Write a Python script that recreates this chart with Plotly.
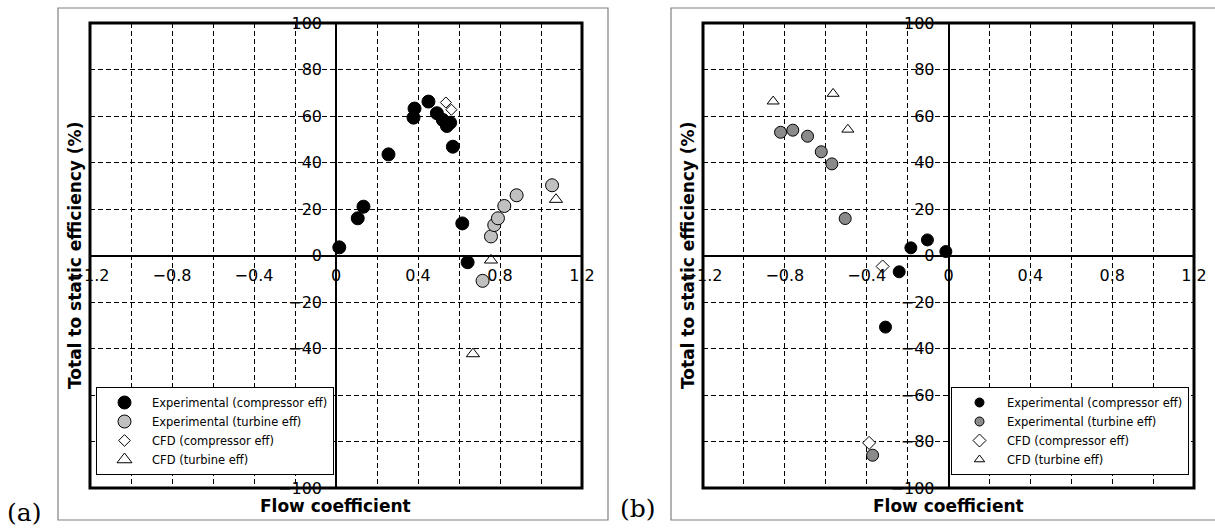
import plotly.graph_objects as go

W, H = 1215, 528

# ---------------- data: panel (a) ----------------
a_exp_comp_x = [0.016, 0.106, 0.134, 0.256, 0.378, 0.383, 0.451, 0.492, 0.521, 0.541, 0.557, 0.570, 0.616, 0.642]
a_exp_comp_y = [3.5, 16.0, 21.0, 43.5, 59.3, 63.2, 66.2, 61.2, 58.3, 55.7, 57.1, 46.8, 13.8, -2.9]
a_exp_turb_x = [0.715, 0.756, 0.772, 0.790, 0.821, 0.881, 1.054]
a_exp_turb_y = [-10.9, 8.2, 13.1, 16.0, 21.3, 25.9, 30.2]
a_cfd_comp_x = [0.536, 0.563]
a_cfd_comp_y = [65.8, 62.7]
a_cfd_turb_x = [0.756, 0.668, 1.073]
a_cfd_turb_y = [-2.0, -42.3, 24.1]

# ---------------- data: panel (b) ----------------
b_exp_comp_x = [-0.184, -0.103, -0.013, -0.241, -0.308]
b_exp_comp_y = [3.3, 6.7, 1.7, -7.0, -30.8]
b_exp_turb_x = [-0.821, -0.761, -0.689, -0.622, -0.570, -0.505, -0.371]
b_exp_turb_y = [53.0, 53.9, 51.3, 44.6, 39.4, 15.9, -85.9]
b_cfd_comp_x = [-0.322, -0.388]
b_cfd_comp_y = [-4.7, -80.6]
b_cfd_turb_x = [-0.857, -0.564, -0.492]
b_cfd_turb_y = [66.3, 69.6, 54.2]

# ---------------- labels ----------------
series_names = ["Experimental (compressor eff)", "Experimental (turbine eff)",
                "CFD (compressor eff)", "CFD (turbine eff)"]
x_tick_vals = [-1.2, -1.0, -0.8, -0.6, -0.4, -0.2, 0.0, 0.2, 0.4, 0.6, 0.8, 1.0, 1.2]
x_tick_text = ["\u22121.2", "", "\u22120.8", "", "\u22120.4", "", "0", "", "0.4", "", "0.8", "", "1.2"]
y_tick_vals = [-100, -80, -60, -40, -20, 0, 20, 40, 60, 80, 100]
y_tick_text = ["\u2212100", "\u221280", "\u221260", "\u221240", "\u221220", "0", "20", "40", "60", "80", "100"]
x_title = "Flow coefficient"
y_title = "Total to static efficiency (%)"
panel_labels = ["(a)", "(b)"]

FONT = "DejaVu Sans"

# pixel layout
plot_top, plot_bot = 23, 488
a_left, a_right = 90, 582
b_left, b_right = 703, 1194


def px(x):
    return x / W


def py(y):
    return 1 - y / H


fig = go.Figure()


def add_panel(idx, xs, ys, gray, sizes, legend_sizes, legend_name):
    xa = "x" if idx == 1 else "x2"
    ya = "y" if idx == 1 else "y2"
    circ, diam, tri = sizes
    styles = [
        dict(symbol="circle", size=circ, color="black", line=dict(color="black", width=1)),
        dict(symbol="circle", size=circ, color=gray, line=dict(color="black", width=1)),
        dict(symbol="diamond", size=diam, color="white", line=dict(color="black", width=1)),
        dict(symbol="triangle-up", size=tri, color="white", line=dict(color="black", width=1)),
    ]
    lc, ld, lt = legend_sizes
    lstyles = [
        dict(symbol="circle", size=lc, color="black", line=dict(color="black", width=1)),
        dict(symbol="circle", size=lc, color=gray, line=dict(color="black", width=1)),
        dict(symbol="diamond", size=ld, color="white", line=dict(color="black", width=1)),
        dict(symbol="triangle-up", size=lt, color="white", line=dict(color="black", width=1)),
    ]
    for (x, y), st, lst, name in zip(zip(xs, ys), styles, lstyles, series_names):
        fig.add_trace(go.Scatter(x=x, y=y, mode="markers", marker=st, xaxis=xa, yaxis=ya,
                                 showlegend=False, cliponaxis=False, hoverinfo="skip"))
        fig.add_trace(go.Scatter(x=[None], y=[None], mode="markers", marker=lst, name=name,
                                 xaxis=xa, yaxis=ya, legend=legend_name, showlegend=True))


add_panel(1,
          [a_exp_comp_x, a_exp_turb_x, a_cfd_comp_x, a_cfd_turb_x],
          [a_exp_comp_y, a_exp_turb_y, a_cfd_comp_y, a_cfd_turb_y],
          "#c0c0c0", (13, 8.5, 11.5), (13, 9, 13), "legend")
add_panel(2,
          [b_exp_comp_x, b_exp_turb_x, b_cfd_comp_x, b_cfd_turb_x],
          [b_exp_comp_y, b_exp_turb_y, b_cfd_comp_y, b_cfd_turb_y],
          "#8a8a8a", (12, 10, 10.5), (9, 10, 9), "legend2")

ydom = [py(plot_bot), py(plot_top)]
ymid = (ydom[0] + ydom[1]) / 2

grid = dict(showgrid=True, gridcolor="black", gridwidth=1.2, griddash="5px,3px",
            zeroline=False, showline=True, linecolor="black", linewidth=1.5,
            ticks="", tickfont=dict(family=FONT, size=16, color="black"),
            ticklabeloverflow="allow", fixedrange=True)

xaxis_common = dict(range=[-1.2, 1.2], tickmode="array", tickvals=x_tick_vals,
                    ticktext=x_tick_text, anchor="free", position=ymid, ticklabelstandoff=6, **grid)
yaxis_common = dict(range=[-100, 100], tickmode="array", tickvals=y_tick_vals,
                    ticktext=y_tick_text, anchor="free", ticklabelstandoff=10, domain=ydom, **grid)

legend_common = dict(xanchor="left", yanchor="top", bgcolor="white", bordercolor="black",
                     borderwidth=1, font=dict(family=FONT, size=11.5, color="black"),
                     itemwidth=45, tracegroupgap=0)

fig.update_layout(
    width=W, height=H,
    margin=dict(l=0, r=0, t=0, b=0, autoexpand=False),
    paper_bgcolor="white", plot_bgcolor="white",
    xaxis=dict(domain=[px(a_left), px(a_right)], **xaxis_common),
    xaxis2=dict(domain=[px(b_left), px(b_right)], **xaxis_common),
    yaxis=dict(position=px((a_left + a_right) / 2), **yaxis_common),
    yaxis2=dict(position=px((b_left + b_right) / 2), **yaxis_common),
    legend=dict(x=px(96), y=py(387), **legend_common),
    legend2=dict(x=px(951), y=py(387), **legend_common),
)

shapes = []
# outer gray boxes
shapes.append(dict(type="rect", xref="paper", yref="paper", x0=px(58), x1=px(608),
                   y0=py(520), y1=py(8), line=dict(color="#808080", width=1.2), layer="below"))
shapes.append(dict(type="rect", xref="paper", yref="paper", x0=px(671), x1=px(1220),
                   y0=py(520), y1=py(8), line=dict(color="#808080", width=1.2), layer="below"))
# thick plot frames
for l, r in [(a_left, a_right), (b_left, b_right)]:
    shapes.append(dict(type="rect", xref="paper", yref="paper", x0=px(l), x1=px(r),
                       y0=py(plot_bot), y1=py(plot_top), line=dict(color="black", width=3),
                       layer="above"))
fig.update_layout(shapes=shapes)

annotations = []
for l, r in [(a_left, a_right), (b_left, b_right)]:
    cx = (l + r) / 2
    annotations.append(dict(x=px(cx), y=py(506), xref="paper", yref="paper", text=x_title,
                            showarrow=False, xanchor="center", yanchor="middle",
                            font=dict(family=FONT, size=17, color="black", weight="bold")))
    annotations.append(dict(x=px(l - 15.5), y=py((plot_top + plot_bot) / 2), xref="paper",
                            yref="paper", text=y_title, textangle=-90, showarrow=False,
                            xanchor="center", yanchor="middle",
                            font=dict(family=FONT, size=17, color="black", weight="bold")))
annotations.append(dict(x=px(24), y=py(512), xref="paper", yref="paper", text=panel_labels[0],
                        showarrow=False, xanchor="center", yanchor="middle",
                        font=dict(family="DejaVu Serif", size=25, color="black")))
annotations.append(dict(x=px(638), y=py(508), xref="paper", yref="paper", text=panel_labels[1],
                        showarrow=False, xanchor="center", yanchor="middle",
                        font=dict(family="DejaVu Serif", size=25, color="black")))
fig.update_layout(annotations=annotations)

fig.write_html("out.html")
